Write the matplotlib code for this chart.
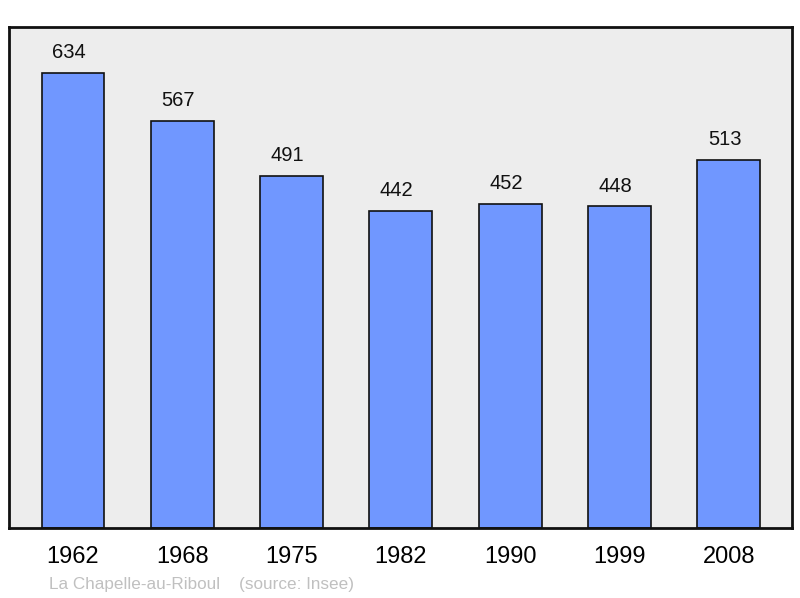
import matplotlib
matplotlib.use("Agg")
import matplotlib.pyplot as plt

years = ["1962", "1968", "1975", "1982", "1990", "1999", "2008"]
population = [634, 567, 491, 442, 452, 448, 513]
footer = "La Chapelle-au-Riboul    (source: Insee)"

plt.rcParams['font.family'] = ['Liberation Sans', 'DejaVu Sans']

fig = plt.figure(figsize=(8, 5.98), dpi=100)
ax = fig.add_axes([9/800, 70/598, 783/800, 501/598])
ax.set_facecolor('#ededed')
x = list(range(len(years)))
ax.bar(x, population, width=0.575, color='#7097ff', edgecolor='#111111', linewidth=1.2, zorder=2)
for xi, v in zip(x, population):
    ax.annotate(str(v), (xi, v), xytext=(-3, 14.5), textcoords='offset points',
                ha='center', va='center', fontsize=14.5, color='#111111')
ax.set_xlim(-0.585, 6.578)
ax.set_ylim(0, 698)
ax.set_yticks([])
ax.set_xticks(x)
ax.set_xticklabels(years, fontsize=17)
ax.tick_params(axis='x', length=0, pad=13)
for s in ax.spines.values():
    s.set_linewidth(2)
    s.set_color('#111111')
fig.text(49/800, 1 - 585/598, footer, fontsize=12.3, color='#c0c0c0', ha='left', va='center')
fig.savefig('out.png', dpi=100)
